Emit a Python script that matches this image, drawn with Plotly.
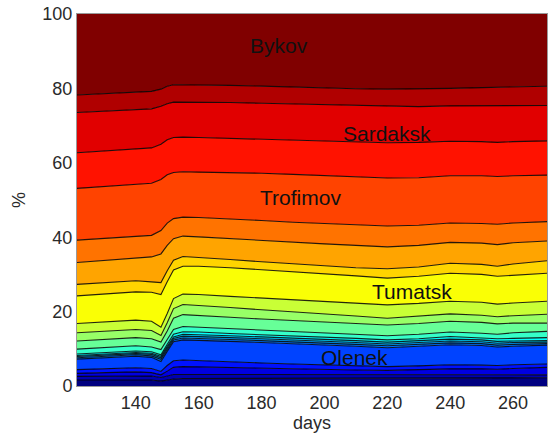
import plotly.graph_objects as go

# day of year
days = [121, 130, 140, 145, 148, 150, 152, 155, 160, 170, 180, 190, 200, 210, 220, 230, 240, 250, 255, 260, 271]

# cumulative share (%) at the top of each layer, bottom layer first
top_00 = [1.6, 1.6, 1.7, 1.6, 1.3, 1.6, 1.9, 2.0, 2.0, 2.0, 2.0, 2.0, 2.0, 2.0, 2.0, 2.1, 2.1, 2.1, 2.1, 2.2, 2.2]
top_01 = [2.6, 2.7, 2.8, 2.7, 2.3, 2.8, 3.1, 3.1, 3.1, 3.1, 3.1, 3.1, 3.1, 3.0, 3.0, 3.0, 3.0, 3.0, 3.0, 3.0, 3.0]
top_02 = [3.4, 3.6, 3.8, 3.6, 3.0, 4.0, 5.0, 5.2, 5.1, 4.9, 4.7, 4.6, 4.4, 4.3, 4.2, 4.4, 4.6, 4.6, 4.5, 4.7, 5.0]
top_03 = [4.4, 4.6, 4.9, 4.7, 3.9, 5.5, 6.8, 7.0, 6.8, 6.5, 6.2, 5.9, 5.6, 5.4, 5.2, 5.4, 5.7, 5.6, 5.5, 5.7, 5.9]
top_04 = [7.2, 7.6, 8.0, 7.7, 6.6, 9.3, 11.9, 12.4, 12.3, 12.0, 11.7, 11.4, 11.1, 10.7, 10.3, 10.6, 11.1, 10.9, 10.5, 10.7, 11.0]
top_05 = [7.6, 8.0, 8.4, 8.1, 7.2, 9.8, 12.4, 12.9, 12.8, 12.5, 12.2, 11.9, 11.6, 11.2, 10.8, 11.1, 11.6, 11.4, 11.0, 11.2, 11.4]
top_06 = [7.9, 8.3, 8.7, 8.5, 7.6, 10.3, 12.8, 13.4, 13.3, 13.0, 12.7, 12.4, 12.1, 11.7, 11.3, 11.6, 12.1, 11.9, 11.5, 11.7, 11.8]
top_07 = [8.2, 8.6, 9.0, 8.8, 8.0, 10.7, 13.2, 13.9, 13.8, 13.5, 13.2, 12.9, 12.6, 12.2, 11.8, 12.1, 12.6, 12.4, 12.0, 12.1, 12.2]
top_08 = [8.6, 9.0, 9.4, 9.2, 8.4, 11.2, 13.9, 14.6, 14.5, 14.1, 13.8, 13.5, 13.2, 12.8, 12.4, 12.7, 13.3, 13.0, 12.7, 12.8, 13.0]
top_09 = [9.9, 10.3, 10.8, 10.5, 9.8, 12.5, 15.2, 16.0, 15.8, 15.4, 15.0, 14.6, 14.3, 13.9, 13.5, 13.9, 14.5, 14.2, 13.9, 14.3, 14.7]
top_10 = [12.1, 12.5, 13.0, 12.7, 11.8, 14.8, 18.2, 19.2, 19.0, 18.5, 18.0, 17.6, 17.3, 16.8, 16.4, 16.8, 17.4, 17.1, 16.7, 16.9, 16.9]
top_11 = [14.3, 14.7, 15.2, 14.9, 13.6, 17.0, 20.8, 21.9, 21.7, 21.1, 20.5, 20.0, 19.5, 18.8, 18.2, 18.7, 19.4, 19.0, 18.6, 18.9, 19.3]
top_12 = [16.8, 17.2, 17.7, 17.4, 15.8, 19.5, 23.5, 24.7, 24.6, 24.1, 23.6, 23.1, 22.7, 22.2, 21.8, 22.2, 22.8, 22.5, 22.0, 22.3, 22.8]
top_13 = [24.2, 24.8, 25.3, 25.2, 24.6, 28.0, 31.2, 32.2, 32.2, 31.8, 31.3, 30.8, 30.3, 29.6, 29.0, 29.5, 30.3, 30.0, 29.5, 29.8, 30.3]
top_14 = [27.3, 27.8, 28.3, 28.0, 27.8, 31.0, 33.8, 34.8, 34.6, 34.0, 33.4, 32.8, 32.3, 31.8, 31.5, 32.0, 33.0, 32.7, 32.2, 32.8, 33.7]
top_15 = [33.2, 33.8, 34.4, 34.7, 35.5, 37.8, 39.6, 40.3, 40.1, 39.6, 39.0, 38.5, 38.2, 37.8, 37.4, 37.8, 38.6, 38.4, 38.0, 38.5, 39.0]
top_16 = [39.2, 39.7, 40.2, 40.5, 41.8, 43.8, 45.0, 45.4, 45.3, 45.0, 44.5, 44.0, 43.6, 43.2, 43.0, 43.2, 43.8, 43.7, 43.5, 43.8, 44.2]
top_17 = [53.1, 53.6, 54.2, 54.5, 55.5, 56.8, 57.4, 57.6, 57.5, 57.4, 57.2, 56.9, 56.6, 56.2, 55.9, 56.0, 56.5, 56.5, 56.3, 56.5, 56.7]
top_18 = [62.7, 63.2, 63.7, 64.0, 65.0, 66.2, 66.8, 66.9, 66.8, 66.6, 66.3, 66.0, 65.8, 65.6, 65.4, 65.5, 65.8, 65.7, 65.5, 65.7, 65.9]
top_19 = [73.5, 73.9, 74.3, 74.5, 75.2, 75.9, 76.3, 76.3, 76.3, 76.2, 76.0, 75.8, 75.5, 75.3, 75.1, 75.1, 75.3, 75.3, 75.2, 75.3, 75.4]
top_20 = [78.2, 78.5, 78.9, 79.2, 79.8, 80.6, 81.0, 81.0, 81.0, 80.8, 80.6, 80.3, 80.1, 79.9, 79.8, 79.8, 80.0, 80.2, 80.3, 80.4, 80.6]
top_21 = [100] * len(days)

tops = [top_00, top_01, top_02, top_03, top_04, top_05, top_06, top_07, top_08, top_09, top_10,
        top_11, top_12, top_13, top_14, top_15, top_16, top_17, top_18, top_19, top_20, top_21]

# jet-like layer colours, bottom to top
colors = ["#000080", "#0000b0", "#0000e1", "#0012ff", "#0043ff", "#0073ff", "#00a4ff", "#00d4ff",
          "#05fffa", "#36ffc9", "#67ff98", "#98ff67", "#c9ff36", "#faff05", "#ffd400", "#ffa400",
          "#ff7300", "#ff4300", "#ff1200", "#e10000", "#b00000", "#800000"]

labels = ["Bykov", "Sardaksk", "Trofimov", "Tumatsk", "Olenek"]
label_x = [185.5, 220.0, 192.5, 228.0, 209.5]
label_y = [91.5, 68.0, 50.8, 25.4, 7.6]

FONT = "Liberation Sans, Arial, sans-serif"

fig = go.Figure()
for i, (t, c) in enumerate(zip(tops, colors)):
    last = i == len(tops) - 1
    fig.add_trace(go.Scatter(
        x=days, y=t, mode="lines",
        line=dict(color="rgba(0,0,0,0)" if last else "rgba(0,0,0,0.85)", width=1.1),
        fill="tozeroy" if i == 0 else "tonexty",
        fillcolor=c, showlegend=False, hoverinfo="skip",
    ))

for txt, lx, ly in zip(labels, label_x, label_y):
    fig.add_annotation(x=lx, y=ly, text=txt, showarrow=False,
                       font=dict(family=FONT, size=21, color="#111"))

fig.update_layout(
    width=548, height=445,
    margin=dict(l=77, r=1, t=14, b=59),
    paper_bgcolor="white", plot_bgcolor="white",
    font=dict(family=FONT, size=18, color="#2a2a2a"),
    xaxis=dict(range=[121.3, 270.8], tickvals=[140, 160, 180, 200, 220, 240, 260],
               showgrid=False, zeroline=False, showline=True, linecolor="#999", linewidth=1,
               mirror=True, ticks="", title=dict(text="days", standoff=3,
               font=dict(family=FONT, size=18, color="#2a2a2a"))),
    yaxis=dict(range=[0, 100], tickvals=[0, 20, 40, 60, 80, 100],
               showgrid=False, zeroline=False, showline=True, linecolor="#999", linewidth=1,
               mirror=True, ticks="", title=dict(text="%", standoff=12,
               font=dict(family=FONT, size=18, color="#2a2a2a"))),
)

fig.write_html("out.html")
